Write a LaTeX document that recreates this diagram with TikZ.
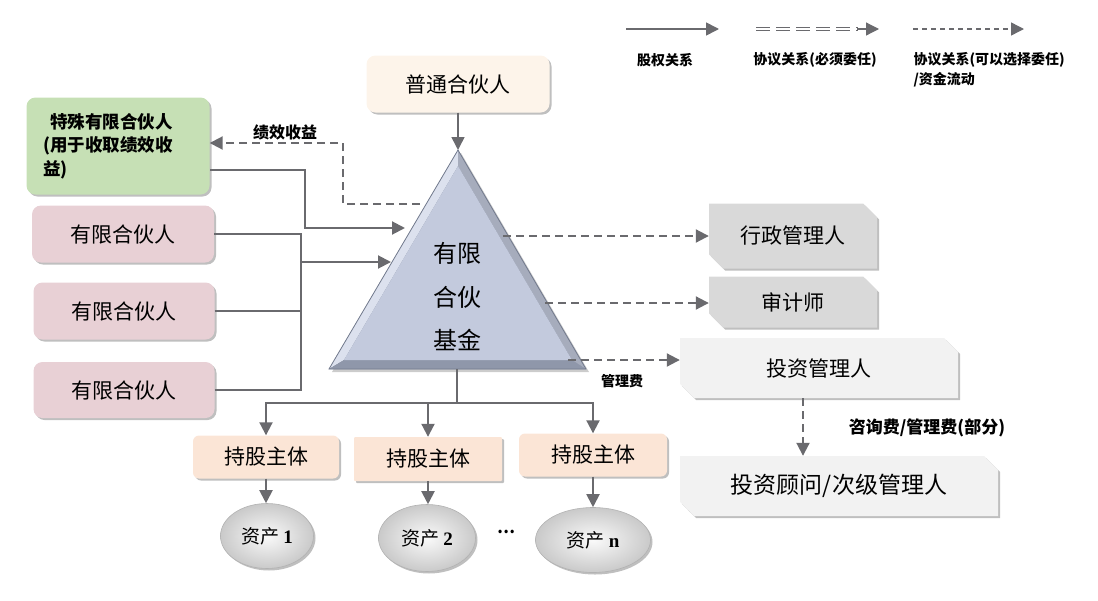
\documentclass[tikz,border=0pt]{standalone}
\usepackage{fontspec}
\setmainfont{Noto Sans CJK SC}
\newfontfamily\latin{Liberation Serif}
\usetikzlibrary{arrows.meta,shapes.misc,shapes.geometric,shadows,calc}
\definecolor{lg}{HTML}{6A6A6E}
\definecolor{gpfill}{HTML}{FDF4EA}
\definecolor{slpfill}{HTML}{C6E0B5}
\definecolor{lpfill}{HTML}{E8D0D5}
\definecolor{admfill}{HTML}{D9D9D9}
\definecolor{imfill}{HTML}{F2F2F2}
\definecolor{hfill}{HTML}{FBE5D6}
\definecolor{triA}{HTML}{C3CADD}
\definecolor{triL}{HTML}{DCE1EE}
\definecolor{triD}{HTML}{8F97AA}
\definecolor{triE}{HTML}{737B8E}
\begin{document}
\begin{tikzpicture}[x=1pt,y=-1pt,
  tip/.style={-{Triangle[length=13pt,width=13pt]}},
  solidarrow/.style={draw=lg,line width=2pt,tip},
  solidline/.style={draw=lg,line width=2pt},
  dasharrow/.style={draw=lg,line width=2pt,dash pattern=on 8pt off 5pt,tip},
  shadowed/.style={drop shadow={shadow xshift=2pt,shadow yshift=-2pt,opacity=0.25,fill=black}},
  roundbox/.style={shadowed,rounded corners=9pt,inner sep=0pt,align=center},
  snipbox/.style={shadowed,chamfered rectangle,chamfered rectangle xsep=7pt,chamfered rectangle ysep=7pt,
     chamfered rectangle corners={north east,south west},inner sep=0pt,align=center},
  bigtxt/.style={font=\fontsize{21}{25}\selectfont},
  smalllabel/.style={font=\fontsize{14}{17}\selectfont\bfseries},
  asset/.style={ellipse,shadowed,inner sep=0pt,draw=gray!60,line width=0.6pt,
     inner color=gray!4,outer color=gray!42,font=\fontsize{19}{22}\selectfont}
]
\useasboundingbox (0,0) rectangle (1098,600);

% ---------- legend ----------
\coordinate (la1) at (626,29); \coordinate (lb1) at (719,29);
\coordinate (la2) at (756,29); \coordinate (lm2) at (858,29); \coordinate (lb2) at (879,29);
\coordinate (la3) at (913,29); \coordinate (lb3) at (1024,29);
\draw[solidarrow,line width=1.6pt] (la1) -- (lb1);
\draw[draw=lg,double=white,double distance=1.6pt,line width=1.2pt,dash pattern=on 14pt off 6pt] (la2) -- (lm2);
\draw[draw=lg,line width=1.2pt,-{Triangle[length=13pt,width=13pt]}] ($(lm2)+(-1,0)$) -- (lb2);
\draw[dasharrow,line width=1.4pt,dash pattern=on 5pt off 4pt] (la3) -- (lb3);
\node[smalllabel] (leg1) at (665,60) {股权关系};
\node[smalllabel] (leg2) at (815,60) {协议关系(必须委任)};
\node[smalllabel,anchor=west,align=left,font=\fontsize{14}{20}\selectfont\bfseries] (leg3) at (910,70) {协议关系(可以选择委任)\\/资金流动};

% ---------- triangle ----------
\coordinate (apex) at (458,150);
\coordinate (bl) at (329,369);
\coordinate (br) at (586,369);
\coordinate (iapex) at (458,166);
\coordinate (ibl) at (344,360);
\coordinate (ibr) at (572,360);
\fill[black,opacity=0.2] ($(apex)+(3,3)$) -- ($(bl)+(3,3)$) -- ($(br)+(3,3)$) -- cycle;
\fill[triE] (apex) -- (bl) -- (br) -- cycle;
\fill[triL] (apex) -- (bl) -- (ibl) -- (iapex) -- cycle;
\fill[triD] (bl) -- (br) -- (ibr) -- (ibl) -- cycle;
\fill[triA!85!black] (apex) -- (iapex) -- (ibr) -- (br) -- cycle;
\fill[triA] (iapex) -- (ibl) -- (ibr) -- cycle;
\draw[triE,line width=0.8pt] (apex) -- (bl) -- (br) -- cycle;
\node[font=\fontsize{24}{28}\selectfont] (t1) at (457,253) {有限};
\node[font=\fontsize{24}{28}\selectfont] (t2) at (457,297) {合伙};
\node[font=\fontsize{24}{28}\selectfont] (t3) at (457,340) {基金};

% ---------- nodes ----------
\node[roundbox,fill=gpfill,minimum width=183pt,minimum height=57pt,bigtxt] (gp) at (458,84) {普通合伙人};
\node[roundbox,fill=slpfill,minimum width=183pt,minimum height=97pt,align=left,text width=150pt,
      font=\fontsize{17.5}{23.5}\selectfont\bfseries] (slp) at (118,146)
      {\mbox{}\kern7pt特殊有限合伙人\\({用于收取绩效收}\\益)};
\node[roundbox,fill=lpfill,minimum width=182pt,minimum height=57pt,bigtxt] (lp1) at (123,234) {有限合伙人};
\node[roundbox,fill=lpfill,minimum width=181pt,minimum height=57pt,bigtxt] (lp2) at (124,311) {有限合伙人};
\node[roundbox,fill=lpfill,minimum width=181pt,minimum height=56pt,bigtxt] (lp3) at (124,390) {有限合伙人};

\node[snipbox,fill=admfill,minimum width=168pt,minimum height=65pt,bigtxt] (adm) at (793,236) {行政管理人};
\node[snipbox,fill=admfill,minimum width=168pt,minimum height=51pt,bigtxt] (aud) at (793,302) {审计师};
\node[snipbox,fill=imfill,minimum width=278pt,minimum height=60pt,bigtxt] (im) at (819,368) {投资管理人};
\node[snipbox,fill=imfill,minimum width=318pt,minimum height=60pt,font=\fontsize{23}{27}\selectfont] (adv) at (839,486) {投资顾问/次级管理人};

\node[roundbox,rounded corners=6pt,fill=hfill,minimum width=146pt,minimum height=43pt,bigtxt] (h1) at (266,457) {持股主体};
\node[roundbox,rounded corners=1pt,fill=hfill,minimum width=148pt,minimum height=44pt,bigtxt] (h2) at (428,459) {持股主体};
\node[roundbox,rounded corners=6pt,fill=hfill,minimum width=148pt,minimum height=43pt,bigtxt] (h3) at (593,455) {持股主体};

\node[asset,minimum width=93pt,minimum height=65pt] (a1) at (267,536) {资产 {\latin\bfseries 1}};
\node[asset,minimum width=97pt,minimum height=67pt] (a2) at (427,538) {资产 {\latin\bfseries 2}};
\node[asset,minimum width=115pt,minimum height=65pt] (an) at (593,540) {资产 {\latin\bfseries n}};
\node[font=\fontsize{16}{18}\selectfont\bfseries] (dots) at (506,532) {…};

% ---------- connectors ----------
\draw[solidarrow,line width=1.6pt] (gp.south) -- (apex);

% performance fee (dashed)
\coordinate (pf) at (420,204);
\coordinate (pfc) at (343,143);
\node[font=\fontsize{16}{19}\selectfont\bfseries] (pflab) at (285,132) {绩效收益};
\draw[dasharrow] (pf) -| (pfc) -- (slp.east |- pfc);

% special LP -> fund
\coordinate (slpo) at (210,170);
\coordinate (tl1) at (405,228);
\draw[solidarrow] (slpo) -| ($(tl1)+(-100,0)$) -- (tl1);

% LPs -> fund
\coordinate (jx) at (301,262);
\coordinate (tl2) at (391,262);
\draw[solidline] (lp1.east) -| (jx);
\draw[solidline] (lp3.east) -| (jx);
\draw[solidline] (lp2.east) -- (lp2.east -| jx);
\draw[solidarrow] (jx) -- (tl2);

% fund -> service providers
\coordinate (tr1) at (503,236);
\coordinate (tr2) at (545,303);
\coordinate (tr3) at (568,360);
\draw[dasharrow] (tr1) -- (tr1 -| adm.west);
\draw[dasharrow] (tr2) -- (tr2 -| aud.west);
\draw[dasharrow] (tr3) -- (tr3 -| im.west);
\node[font=\fontsize{14}{17}\selectfont\bfseries] (mflab) at (622,381) {管理费};

\coordinate (imd) at (803,398);
\draw[dasharrow] (imd) -- (imd |- adv.north);
\node[font=\fontsize{17}{20}\selectfont\bfseries] (cflab) at (927,428) {咨询费/管理费(部分)};

% fund -> holding entities
\coordinate (tb) at (457,369);
\coordinate (tj) at (457,403);
\draw[solidline] (tb) -- (tj);
\draw[solidarrow] (tj) -| (h1.north);
\draw[solidarrow] (tj) -| (h3.north);
\draw[solidarrow] (h2.north |- tj) -- (h2.north);

\draw[solidarrow] (h1.south) -- (h1.south |- a1.north);
\draw[solidarrow] (h2.south) -- (h2.south |- a2.north);
\draw[solidarrow] (h3.south) -- (h3.south |- an.north);
\end{tikzpicture}
\end{document}
